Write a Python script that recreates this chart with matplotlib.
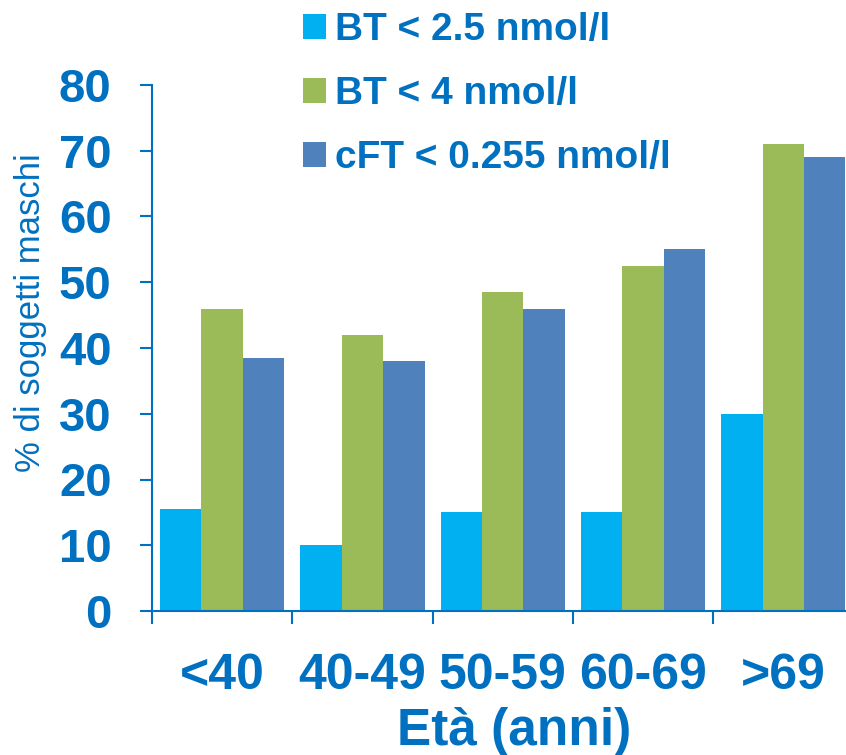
import numpy as np
import matplotlib

matplotlib.use('Agg')

import matplotlib.pyplot as plt
from matplotlib.patches import Patch

plt.rcParams['font.family'] = ['Liberation Sans', 'DejaVu Sans']

# percentuale di soggetti maschi per fascia d'età
eta = ['<40', '40-49', '50-59', '60-69', '>69']
bt_25 = [15.5, 10, 15, 15, 30]
bt_4 = [46, 42, 48.5, 52.5, 71]
cft = [38.5, 38, 46, 55, 69]
serie = ['BT < 2.5 nmol/l', 'BT < 4 nmol/l', 'cFT < 0.255 nmol/l']
colori = ['#00B0F0', '#9BBB59', '#4F81BD']
blu = '#0070C0'

fig = plt.figure(figsize=(8.46, 7.55), dpi=100)
ax = fig.add_axes([152 / 846, 144 / 755, 5 * 140.3 / 846, 526 / 755])

x = np.arange(len(eta))
w = 0.295
for k, vals in enumerate([bt_25, bt_4, cft]):
    ax.bar(x + (k - 1) * w, vals, width=w, color=colori[k], edgecolor='none', zorder=2)

ax.set_xlim(-0.5, len(eta) - 0.5)
ax.set_ylim(0, 80)
ax.set_yticks(range(0, 81, 10))

for s in ['top', 'right']:
    ax.spines[s].set_visible(False)
for s in ['left', 'bottom']:
    ax.spines[s].set_color(blu)
    ax.spines[s].set_linewidth(1.5)

ax.tick_params(axis='y', direction='out', length=9, width=1.5, color=blu,
               labelcolor=blu, labelsize=34, pad=20)
for t in ax.get_yticklabels():
    t.set_fontweight('bold')

# etichette al centro dei gruppi, trattini ai bordi dei gruppi
ax.set_xticks(x)
ax.set_xticklabels(eta, fontsize=36, fontweight='bold', color=blu)
ax.tick_params(axis='x', which='major', length=0, pad=30)
ax.set_xticks(np.arange(-0.5, len(eta)), minor=True)
ax.tick_params(axis='x', which='minor', direction='out', length=9.5, width=1.5, color=blu)

fig.text(514 / 846, 10 / 755, 'Età (anni)', fontsize=37, fontweight='bold',
         color=blu, ha='center', va='baseline')
fig.text(31 / 846, 1 - 313 / 755, '% di soggetti maschi', fontsize=25,
         color=blu, rotation=90, ha='center', va='center')

handles = [Patch(facecolor=c, edgecolor='none') for c in colori]
leg = fig.legend(handles, serie, loc='upper left', bbox_to_anchor=(303 / 846, 1 - 12 / 755),
                 frameon=False, fontsize=28, handlelength=0.59, handleheight=0.59,
                 handletextpad=0.23, labelspacing=0.72, borderpad=0, borderaxespad=0)
for t in leg.get_texts():
    t.set_fontweight('bold')
    t.set_color(blu)

fig.savefig('out.png', dpi=100)
